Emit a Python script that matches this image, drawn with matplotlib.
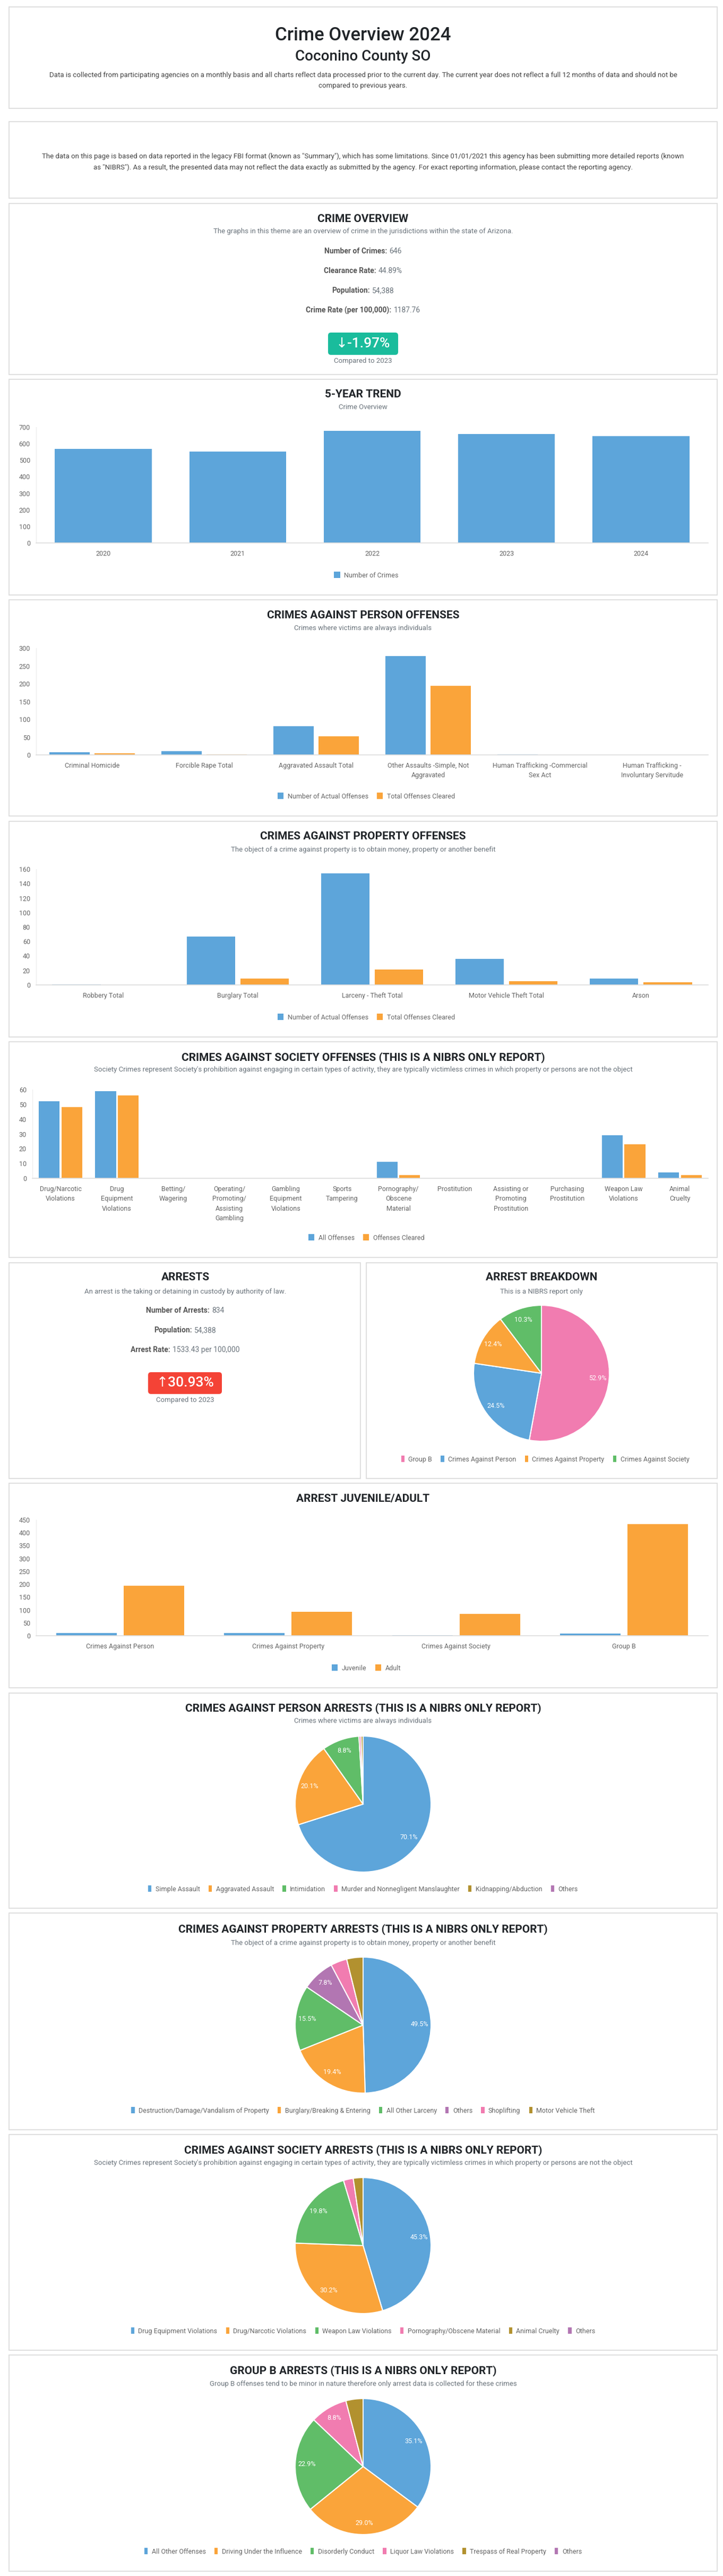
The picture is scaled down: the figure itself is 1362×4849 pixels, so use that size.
import matplotlib
matplotlib.use('Agg')
import matplotlib.pyplot as plt
from matplotlib.patches import Rectangle, FancyBboxPatch, Patch

plt.rcParams['font.family'] = ['Roboto', 'DejaVu Sans']

# ---- data ----
years = ['2020', '2021', '2022', '2023', '2024']
crimes_by_year = [569, 553, 678, 659, 646]

person_cats = ['Criminal Homicide', 'Forcible Rape Total', 'Aggravated Assault Total',
               'Other Assaults -Simple, Not\nAggravated', 'Human Trafficking -Commercial\nSex Act',
               'Human Trafficking -\nInvoluntary Servitude']
person_actual = [7, 11, 80, 277, 2, 0]
person_cleared = [4, 1, 52, 194, 0, 0]

property_cats = ['Robbery Total', 'Burglary Total', 'Larceny - Theft Total', 'Motor Vehicle Theft Total', 'Arson']
property_actual = [1, 67, 154, 36, 9]
property_cleared = [0, 9, 21, 5, 4]

society_cats = ['Drug/Narcotic\nViolations', 'Drug\nEquipment\nViolations', 'Betting/\nWagering',
                'Operating/\nPromoting/\nAssisting\nGambling', 'Gambling\nEquipment\nViolations',
                'Sports\nTampering', 'Pornography/\nObscene\nMaterial', 'Prostitution',
                'Assisting or\nPromoting\nProstitution', 'Purchasing\nProstitution',
                'Weapon Law\nViolations', 'Animal\nCruelty']
society_all = [52, 59, 0, 0, 0, 0, 11, 0, 0, 0, 29, 4]
society_cleared = [48, 56, 0, 0, 0, 0, 2, 0, 0, 0, 23, 2]

juv_cats = ['Crimes Against Person', 'Crimes Against Property', 'Crimes Against Society', 'Group B']
juvenile = [10, 10, 2, 8]
adult = [194, 93, 84, 433]

breakdown_labels = ['Group B', 'Crimes Against Person', 'Crimes Against Property', 'Crimes Against Society']
breakdown_vals = [441, 204, 103, 86]

person_arr_labels = ['Simple Assault', 'Aggravated Assault', 'Intimidation',
                     'Murder and Nonnegligent Manslaughter', 'Kidnapping/Abduction', 'Others']
person_arr_vals = [143, 41, 18, 1, 1, 0]

property_arr_labels = ['Destruction/Damage/Vandalism of Property', 'Burglary/Breaking & Entering',
                       'All Other Larceny', 'Others', 'Shoplifting', 'Motor Vehicle Theft']
property_arr_vals = [51, 20, 16, 8, 4, 4]

society_arr_labels = ['Drug Equipment Violations', 'Drug/Narcotic Violations', 'Weapon Law Violations',
                      'Pornography/Obscene Material', 'Animal Cruelty', 'Others']
society_arr_vals = [39, 26, 17, 2, 2, 0]

groupb_labels = ['All Other Offenses', 'Driving Under the Influence', 'Disorderly Conduct',
                 'Liquor Law Violations', 'Trespass of Real Property', 'Others']
groupb_vals = [155, 128, 101, 39, 18, 0]

# ---- styling ----
BLUE, ORANGE, GREEN = '#5DA5DA', '#FAA43A', '#60BD68'
PINK, BROWN, PURPLE = '#F17CB0', '#B2912F', '#B276B2'
TITLE_C, SUB_C, TICK_C = '#212529', '#6c757d', '#666666'

W, H = 1362, 4849
fig = plt.figure(figsize=(W / 100, H / 100), dpi=100)
fig.patch.set_facecolor('white')


def fy(y):
    return 1 - y / H


def card(x0, y0, x1, y1):
    fig.add_artist(Rectangle((x0 / W, fy(y1)), (x1 - x0) / W, (y1 - y0) / H,
                             transform=fig.transFigure, facecolor='white',
                             edgecolor='#dcdcdc', linewidth=1.3, zorder=-10))


def text(x, y, s, size=9.5, color=SUB_C, weight='normal', ha='center'):
    return fig.text(x / W, fy(y), s, fontsize=size, color=color, weight=weight,
                    ha=ha, va='center')


def title(x, y, s):
    return text(x, y, s, size=15, color=TITLE_C, weight='bold')


def stat_line(cx, y, label, value):
    r = fig.canvas.get_renderer()
    t1 = text(0, y, label, size=10, color='#555555', weight='bold', ha='left')
    t2 = text(0, y, value, size=10, color='#6c757d', ha='left')
    w1 = t1.get_window_extent(r).width
    w2 = t2.get_window_extent(r).width
    start = cx - (w1 + 4 + w2) / 2
    t1.set_x(start / W)
    t2.set_x((start + w1 + 4) / W)


def badge(x0, y0, x1, y1, s, color):
    fig.add_artist(FancyBboxPatch((x0 / W, fy(y1)), (x1 - x0) / W, (y1 - y0) / H,
                                  boxstyle='round,pad=0,rounding_size=0.004',
                                  transform=fig.transFigure, facecolor=color,
                                  edgecolor='none', mutation_aspect=W / H))
    text((x0 + x1) / 2, (y0 + y1) / 2, s, size=19, color='white', weight='medium')


def legend(cx, y, labels, colors, handlelength=0.9):
    handles = [Patch(facecolor=c, edgecolor='none') for c in colors]
    leg = fig.legend(handles, labels, loc='center', bbox_to_anchor=(cx / W, fy(y)),
                     bbox_transform=fig.transFigure, ncol=len(labels), frameon=False,
                     fontsize=9, handlelength=handlelength, handleheight=1.1,
                     handletextpad=0.6, columnspacing=1.3)
    for t in leg.get_texts():
        t.set_color(TICK_C)


def bar_axes(x0, y0, x1, y1):
    ax = fig.add_axes([x0 / W, fy(y1), (x1 - x0) / W, (y1 - y0) / H])
    ax.patch.set_alpha(0)
    for s in ['top', 'right']:
        ax.spines[s].set_visible(False)
    ax.spines['left'].set_color('#ececec')
    ax.spines['bottom'].set_color('#dddddd')
    ax.spines['bottom'].set_linewidth(1.2)
    ax.tick_params(length=0, labelsize=9, labelcolor=TICK_C, pad=8)
    ax.tick_params(axis='x', pad=10)
    return ax


def grouped(ax, cats, a, b, top, step, width=0.36, off=0.2):
    n = len(cats)
    xs = list(range(n))
    ax.bar([x - off for x in xs], a, width=width, color=BLUE)
    ax.bar([x + off for x in xs], b, width=width, color=ORANGE)
    ax.set_xlim(-0.5, n - 0.5)
    ax.set_ylim(0, top)
    ax.set_yticks(range(0, top + 1, step))
    ax.set_xticks(xs)
    ax.set_xticklabels(cats, linespacing=1.55, va='top')


def pie(cx, cy, vals, colors, labels, leg_y, leg_cx=684, R=128):
    k = 1.03
    ax = fig.add_axes([(cx - R * k) / W, fy(cy + R * k), 2 * R * k / W, 2 * R * k / H])
    vv = [v for v in vals if v > 0]
    cc = [c for v, c in zip(vals, colors) if v > 0]
    ax.pie(vv, colors=cc, startangle=90, counterclock=False,
           autopct=lambda p: f'{p:.1f}%' if p >= 5 else '', pctdistance=0.83,
           wedgeprops=dict(edgecolor='white', linewidth=1.5),
           textprops=dict(color='white', fontsize=9))
    ax.set_xlim(-k, k)
    ax.set_ylim(-k, k)
    ax.set_aspect('equal')
    legend(leg_cx, leg_y, labels, colors, handlelength=0.5)


# ---- header ----
card(17, 13, 1351, 204)
text(684, 66, 'Crime Overview 2024', size=25, color=TITLE_C, weight='medium')
text(684, 106, 'Coconino County SO', size=20, color=TITLE_C, weight='medium')
text(684, 141, 'Data is collected from participating agencies on a monthly basis and all charts reflect data processed '
               'prior to the current day. The current year does not reflect a full 12 months of data and should not be',
     size=9.5, color='#444444')
text(684, 162, 'compared to previous years.', size=9.5, color='#444444')

card(17, 229, 1351, 373)
text(684, 294, 'The data on this page is based on data reported in the legacy FBI format (known as "Summary"), which has '
               'some limitations. Since 01/01/2021 this agency has been submitting more detailed reports (known',
     size=9.5, color='#444444')
text(684, 315, 'as "NIBRS"). As a result, the presented data may not reflect the data exactly as submitted by the agency. '
               'For exact reporting information, please contact the reporting agency.', size=9.5, color='#444444')

# ---- crime overview ----
card(17, 383, 1351, 705)
title(684, 412, 'CRIME OVERVIEW')
text(684, 436, 'The graphs in this theme are an overview of crime in the jurisdictions within the state of Arizona.')
stat_line(684, 473, 'Number of Crimes:', '646')
stat_line(684, 510, 'Clearance Rate:', '44.89%')
stat_line(684, 547, 'Population:', '54,388')
stat_line(684, 584, 'Crime Rate (per 100,000):', '1187.76')
badge(618, 626, 750, 668, '\u2193-1.97%', '#1ABC9C')
text(684, 679, 'Compared to 2023', size=9.5)

# ---- 5-year trend ----
card(17, 714, 1351, 1120)
title(684, 743, '5-YEAR TREND')
text(684, 767, 'Crime Overview')
ax = bar_axes(68, 804, 1334, 1022)
ax.bar(range(len(years)), crimes_by_year, width=0.72, color=BLUE)
ax.set_xlim(-0.5, len(years) - 0.5)
ax.set_ylim(0, 700)
ax.set_yticks(range(0, 701, 100))
ax.set_xticks(range(len(years)))
ax.set_xticklabels(years)
legend(690, 1083, ['Number of Crimes'], [BLUE])

# ---- person offenses ----
card(17, 1129, 1351, 1536)
title(684, 1158, 'CRIMES AGAINST PERSON OFFENSES')
text(684, 1183, 'Crimes where victims are always individuals')
ax = bar_axes(68, 1220, 1334, 1421)
grouped(ax, person_cats, person_actual, person_cleared, 300, 50)
legend(690, 1499, ['Number of Actual Offenses', 'Total Offenses Cleared'], [BLUE, ORANGE])

# ---- property offenses ----
card(17, 1546, 1351, 1952)
title(684, 1574, 'CRIMES AGAINST PROPERTY OFFENSES')
text(684, 1599, 'The object of a crime against property is to obtain money, property or another benefit')
ax = bar_axes(68, 1636, 1334, 1854)
grouped(ax, property_cats, property_actual, property_cleared, 160, 20)
legend(690, 1915, ['Number of Actual Offenses', 'Total Offenses Cleared'], [BLUE, ORANGE])

# ---- society offenses ----
card(17, 1961, 1351, 2367)
title(684, 1991, 'CRIMES AGAINST SOCIETY OFFENSES (THIS IS A NIBRS ONLY REPORT)')
text(684, 2014, "Society Crimes represent Society's prohibition against engaging in certain types of activity, "
                'they are typically victimless crimes in which property or persons are not the object')
ax = bar_axes(61, 2051, 1334, 2218)
grouped(ax, society_cats, society_all, society_cleared, 60, 10, width=0.37, off=0.2)
legend(690, 2330, ['All Offenses', 'Offenses Cleared'], [BLUE, ORANGE])

# ---- arrests ----
card(17, 2377, 679, 2783)
title(349, 2405, 'ARRESTS')
text(349, 2431, 'An arrest is the taking or detaining in custody by authority of law.')
stat_line(349, 2467, 'Number of Arrests:', '834')
stat_line(349, 2504, 'Population:', '54,388')
stat_line(349, 2541, 'Arrest Rate:', '1533.43 per 100,000')
badge(279, 2583, 418, 2624, '\u219130.93%', '#F44336')
text(349, 2636, 'Compared to 2023', size=9.5)

card(690, 2377, 1351, 2783)
title(1020, 2405, 'ARREST BREAKDOWN')
text(1020, 2431, 'This is a NIBRS report only')
pie(1020, 2585, breakdown_vals, [PINK, BLUE, ORANGE, GREEN], breakdown_labels, 2747, leg_cx=1027)

# ---- juvenile / adult ----
card(17, 2792, 1351, 3177)
title(684, 2822, 'ARREST JUVENILE/ADULT')
ax = bar_axes(68, 2861, 1334, 3079)
grouped(ax, juv_cats, juvenile, adult, 450, 50)
legend(690, 3140, ['Juvenile', 'Adult'], [BLUE, ORANGE])

# ---- arrest pies ----
six = [BLUE, ORANGE, GREEN, PINK, BROWN, PURPLE]

card(17, 3187, 1351, 3592)
title(684, 3216, 'CRIMES AGAINST PERSON ARRESTS (THIS IS A NIBRS ONLY REPORT)')
text(684, 3240, 'Crimes where victims are always individuals')
pie(684, 3396, person_arr_vals, six, person_arr_labels, 3556)

card(17, 3601, 1351, 4009)
title(684, 3632, 'CRIMES AGAINST PROPERTY ARRESTS (THIS IS A NIBRS ONLY REPORT)')
text(684, 3657, 'The object of a crime against property is to obtain money, property or another benefit')
pie(684, 3812, property_arr_vals, [BLUE, ORANGE, GREEN, PURPLE, PINK, BROWN], property_arr_labels, 3973)

card(17, 4018, 1351, 4424)
title(684, 4048, 'CRIMES AGAINST SOCIETY ARRESTS (THIS IS A NIBRS ONLY REPORT)')
text(684, 4072, "Society Crimes represent Society's prohibition against engaging in certain types of activity, "
                'they are typically victimless crimes in which property or persons are not the object')
pie(684, 4227, society_arr_vals, six, society_arr_labels, 4388)

card(17, 4433, 1351, 4840)
title(684, 4463, 'GROUP B ARRESTS (THIS IS A NIBRS ONLY REPORT)')
text(684, 4487, 'Group B offenses tend to be minor in nature therefore only arrest data is collected for these crimes')
pie(684, 4643, groupb_vals, six, groupb_labels, 4803)

fig.savefig('out.png', dpi=100, facecolor='white')
